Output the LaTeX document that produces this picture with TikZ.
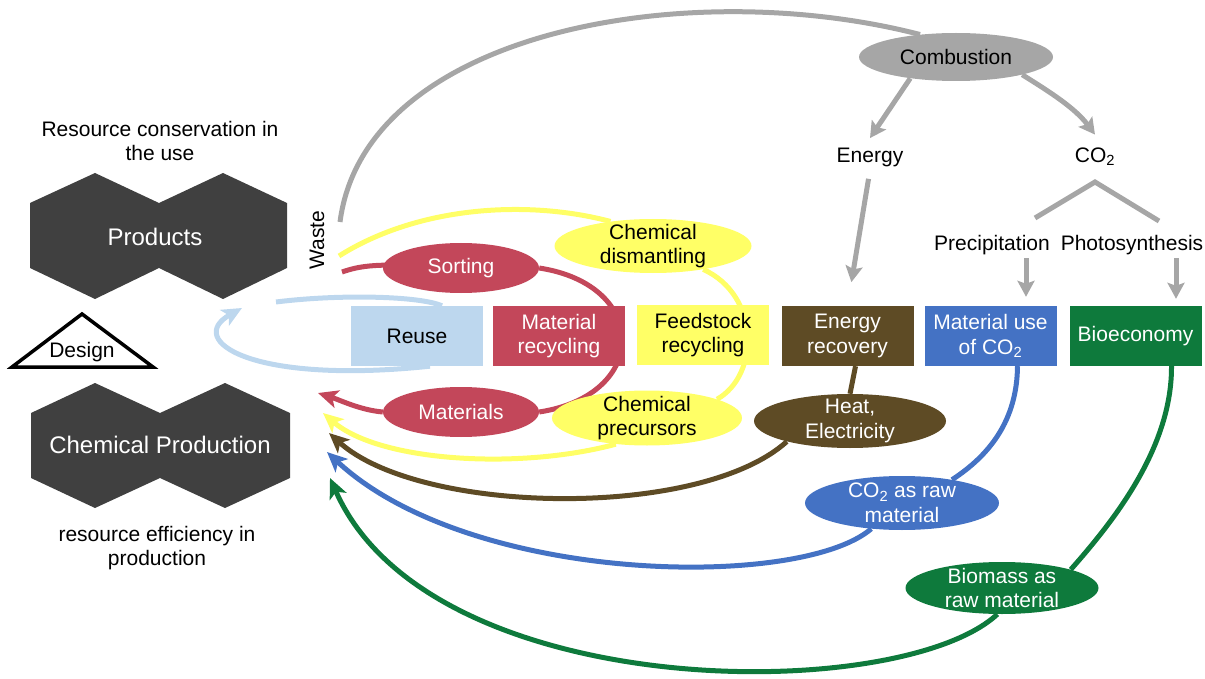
\documentclass[tikz,border=0pt]{standalone}
\usepackage{fontspec}
\setmainfont{Liberation Sans}
\usetikzlibrary{shapes.geometric,arrows.meta,backgrounds}

\definecolor{hexgray}{HTML}{404040}
\definecolor{reuseblue}{HTML}{BDD7EE}
\definecolor{recred}{HTML}{C3475A}
\definecolor{feedyellow}{HTML}{FFFF66}
\definecolor{enbrown}{HTML}{5E4B25}
\definecolor{co2blue}{HTML}{4472C4}
\definecolor{biogreen}{HTML}{0E7A3C}
\definecolor{flowgray}{HTML}{A6A6A6}

\tikzset{
  every node/.style={font=\fontsize{21}{24.5}\selectfont, align=center},
  hextext/.style={text=white, font=\fontsize{24}{28}\selectfont},
  stage/.style={minimum width=132pt, minimum height=60pt, inner sep=0pt},
  blob/.style={ellipse, inner sep=0pt},
  flow/.style={line width=5pt},
  flowtip/.style={-{Stealth[length=20pt,width=18pt,inset=5pt]}},
  grayline/.style={line width=5pt, flowgray},
  graytip/.style={-{Stealth[length=16pt,width=17pt,inset=3pt]}},
}

\begin{document}
\begin{tikzpicture}[x=1pt,y=-1pt]
  \useasboundingbox (0,0) rectangle (1205,679);

  % the two double hexagons
  \fill[hexgray] (30,203) -- (95,173) -- (159,203) -- (223,173) -- (287,203) -- (287,268)
    -- (223,299) -- (159,268) -- (95,299) -- (30,268) -- cycle;
  \fill[hexgray] (31,413) -- (95,383) -- (160,413) -- (225,383) -- (290,413) -- (290,478)
    -- (225,508) -- (160,478) -- (95,508) -- (31,478) -- cycle;
  \node[hextext] (products) at (155,237) {Products};
  \node[hextext] (chemprod) at (160,445) {Chemical Production};

  \draw[line width=3.5pt, fill=white] (12,367) -- (82,314) -- (153,367) -- cycle;
  \node (design) at (82,352) {Design};

  \node (rescons) at (160,141) {Resource conservation in\\the use};
  \node (reseff) at (157,548) {resource efficiency in\\production};
  \node[rotate=90] (waste) at (317,240) {Waste};

  % row of boxes
  \node[stage, fill=reuseblue] (reuse) at (417,336) {Reuse};
  \node[stage, fill=recred, text=white] (matrec) at (559,336) {Material\\recycling};
  \node[stage, fill=feedyellow] (feed) at (703,335) {Feedstock\\recycling};
  \node[stage, fill=enbrown, text=white] (enrec) at (847.5,336) {Energy\\recovery};
  \node[stage, fill=co2blue, text=white] (co2use) at (990.5,336) {Material use\\of CO\textsubscript{2}};
  \node[stage, fill=biogreen, text=white] (bioeco) at (1135.5,336) {Bioeconomy};

  % ellipses
  \node[blob, fill=recred, text=white, minimum width=156pt, minimum height=50pt] (sorting) at (461,268) {Sorting};
  \node[blob, fill=recred, text=white, minimum width=156pt, minimum height=50pt] (materials) at (461,412) {Materials};
  \node[blob, fill=feedyellow, minimum width=197pt, minimum height=54pt] (dism) at (653,246) {};
  \node (dismtxt) at (dism) {Chemical\\dismantling};
  \node[blob, fill=feedyellow, minimum width=190pt, minimum height=55pt] (precur) at (647,418) {};
  \node (precurtxt) at (precur) {Chemical\\precursors};
  \node[blob, fill=enbrown, minimum width=192pt, minimum height=54pt] (heat) at (850,421) {};
  \node[text=white] (heattxt) at (heat) {Heat,\\Electricity};
  \node[blob, fill=co2blue, minimum width=194pt, minimum height=54pt] (co2raw) at (902,503) {};
  \node[text=white] (co2rawtxt) at (co2raw) {CO\textsubscript{2} as raw\\material};
  \node[blob, fill=biogreen, minimum width=193pt, minimum height=52pt] (biomass) at (1002,588) {};
  \node[text=white] (biomasstxt) at (biomass) {Biomass as\\raw material};
  \node[blob, fill=flowgray, minimum width=194pt, minimum height=48pt] (combust) at (956,57) {Combustion};

  % combustion side
  \node (energy) at (870,157) {Energy};
  \node (co2) at (1095,157) {CO\textsubscript{2}};
  \node (precip) at (992,245) {Precipitation};
  \node (photo) at (1132,245) {Photosynthesis};
  \coordinate (forkL) at (1035,218);
  \coordinate (forkR) at (1159,221);

  \draw[grayline, graytip] (combust.205) -- ([yshift=6pt]energy.north);
  \draw[grayline, graytip] (combust.-15) .. controls (1050,92) and (1075,108) .. ([yshift=10pt]co2.north);
  \draw[grayline, graytip, shorten <=9pt, shorten >=24pt] (energy.south) -- (enrec.north);
  \draw[grayline] (forkL) -- ([yshift=-25pt]co2.center) -- (forkR);
  \draw[grayline, graytip, shorten >=9pt] ([xshift=35.5pt]co2use.north |- precip.south) -- ([xshift=35.5pt]co2use.north);
  \draw[grayline, graytip, shorten >=7pt] ([xshift=40.5pt]bioeco.north |- photo.south) -- ([xshift=40.5pt]bioeco.north);

  % loops back to production
  \coordinate (wasteG) at (340,222);
  \coordinate (wasteY) at (339,256);
  \coordinate (wasteR) at (342,272);
  \coordinate (reuseTop) at (276,302);
  \coordinate (reuseEnd) at (242,308);
  \coordinate (chemR) at (318,393);
  \coordinate (chemY) at (323,413);
  \coordinate (chemB) at (329,433);
  \coordinate (chemC) at (327,452);
  \coordinate (chemG) at (330,478);

  \begin{scope}[on background layer]
    \draw[grayline] (wasteG) .. controls (365,30) and (690,-25) .. (combust.148);

    \draw[flow, reuseblue] (reuseTop) .. controls (340,294) and (420,296) .. ([xshift=25pt]reuse.north);
    \draw[flow, reuseblue, flowtip] ([xshift=13pt]reuse.south) .. controls (250,385) and (185,340) .. (reuseEnd);

    \draw[flow, recred] (wasteR) .. controls (360,266) and (375,262) .. (sorting.center);
    \draw[flow, recred] (sorting.east) .. controls (650,285) and (650,395) .. (materials.east);
    \draw[flow, recred, flowtip] (materials.west) .. controls (360,410) and (340,400) .. (chemR);

    \draw[flow, feedyellow] (wasteY) .. controls (420,205) and (530,200) .. (dism.150);
    \draw[flow, feedyellow] (dism.-25) .. controls (760,295) and (760,375) .. (precur.15);
    \draw[flow, feedyellow, flowtip] (precur.220) .. controls (520,470) and (380,462) .. (chemY);

    \draw[flow, enbrown] ([xshift=8pt]enrec.south) -- (heat.north);
    \draw[flow, enbrown, flowtip] (heat.198) .. controls (700,520) and (420,515) .. (chemB);

    \draw[flow, co2blue] ([xshift=27pt]co2use.south) .. controls (1017,420) and (990,455) .. (co2raw.25);
    \draw[flow, co2blue, flowtip] (co2raw.220) .. controls (800,590) and (470,585) .. (chemC);

    \draw[flow, biogreen] ([xshift=36pt]bioeco.south) .. controls (1172,450) and (1110,525) .. (biomass.15);
    \draw[flow, biogreen, flowtip] (biomass.260) .. controls (900,705) and (430,705) .. (chemG);
  \end{scope}
\end{tikzpicture}
\end{document}
